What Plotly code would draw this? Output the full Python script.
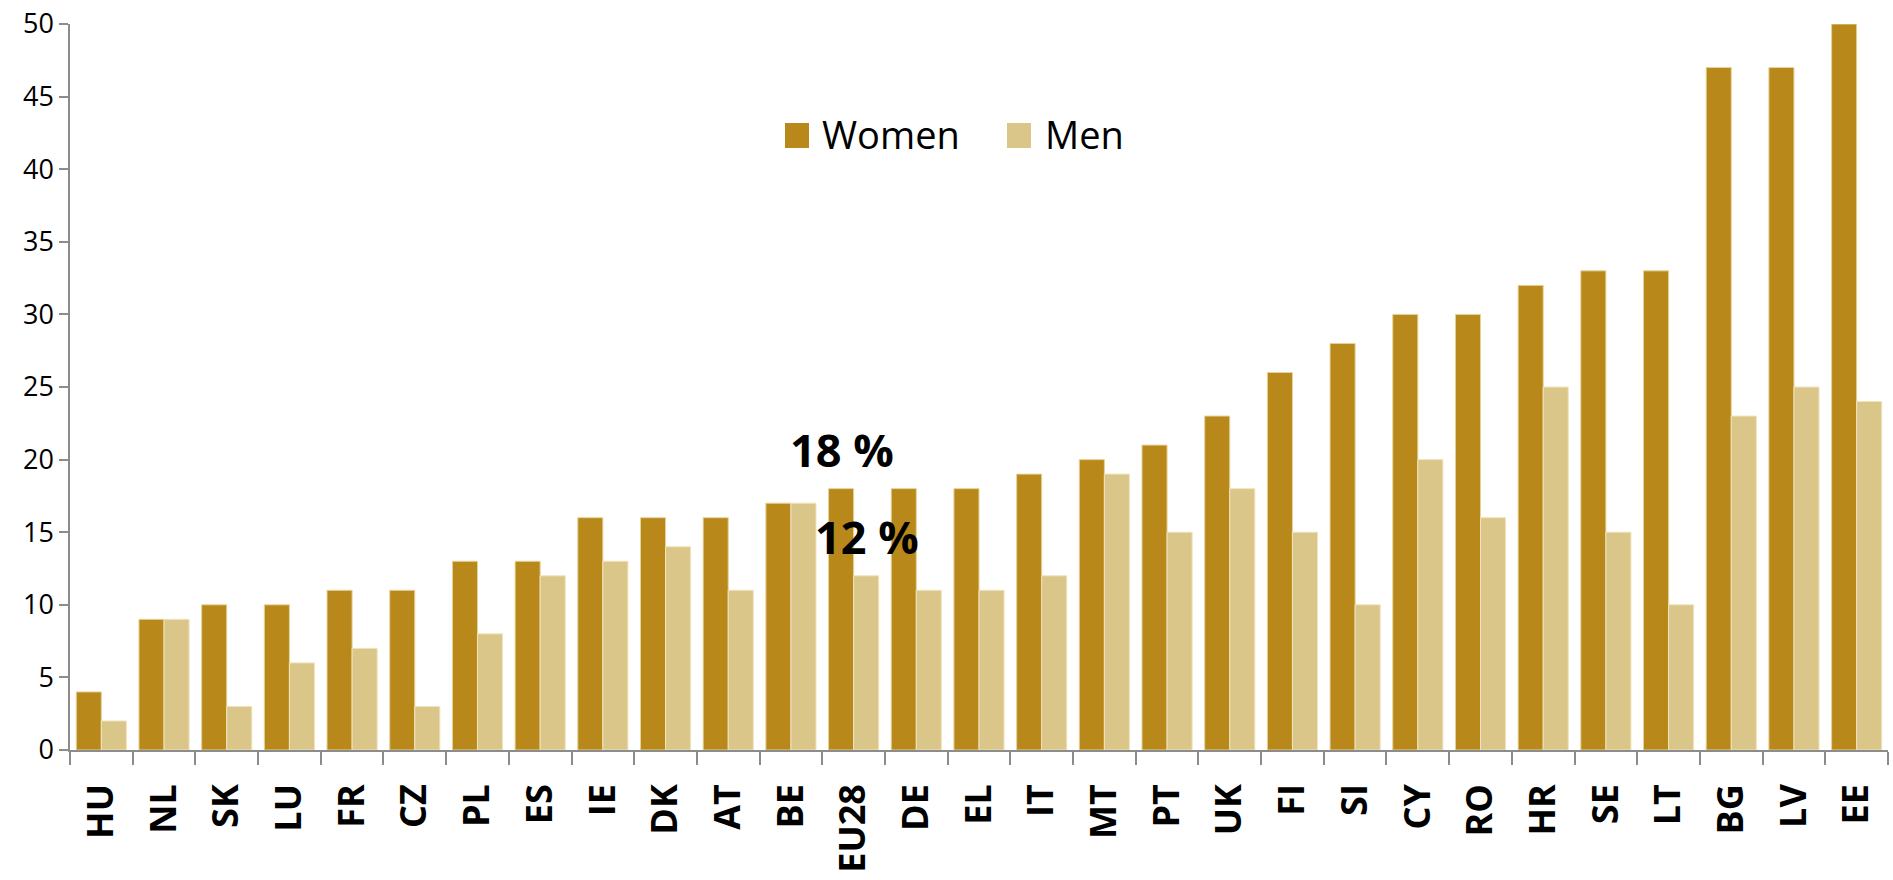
import plotly.graph_objects as go

countries = ["HU", "NL", "SK", "LU", "FR", "CZ", "PL", "ES", "IE", "DK", "AT", "BE", "EU28", "DE",
             "EL", "IT", "MT", "PT", "UK", "FI", "SI", "CY", "RO", "HR", "SE", "LT", "BG", "LV", "EE"]
women = [4, 9, 10, 10, 11, 11, 13, 13, 16, 16, 16, 17, 18, 18, 18, 19, 20, 21, 23, 26, 28, 30, 30, 32, 33, 33, 47, 47, 50]
men = [2, 9, 3, 6, 7, 3, 8, 12, 13, 14, 11, 17, 12, 11, 11, 12, 19, 15, 18, 15, 10, 20, 16, 25, 15, 10, 23, 25, 24]
y_ticks = [0, 5, 10, 15, 20, 25, 30, 35, 40, 45, 50]

WOMEN_C = "#B8891A"
MEN_C = "#DBC68A"
AXIS_C = "#8C8C8C"

fig = go.Figure()
fig.add_trace(go.Bar(x=countries, y=women, name="Women", marker=dict(color=WOMEN_C, line=dict(color="#E6D39B", width=1)), showlegend=False))
fig.add_trace(go.Bar(x=countries, y=men, name="Men", marker=dict(color=MEN_C, line=dict(color="#F0E4BE", width=1)), showlegend=False))

fig.update_layout(
    width=1893, height=880,
    margin=dict(l=70, r=5, t=24, b=130),
    paper_bgcolor="white", plot_bgcolor="white",
    barmode="group", bargap=0.2, bargroupgap=0,
    font=dict(family="Open Sans", color="black"),
)
fig.update_xaxes(
    type="category", showline=True, linecolor=AXIS_C, linewidth=1.5,
    ticks="outside", tickson="boundaries", ticklen=13, tickcolor=AXIS_C, tickwidth=1.5,
    tickangle=-90, tickfont=dict(family="Open Sans", size=36, color="black", weight="bold"),
    ticklabelstandoff=18, automargin=False,
    showgrid=False, range=[-0.5, len(countries) - 0.5],
)
fig.update_yaxes(
    range=[0, 50], tickvals=y_ticks, showline=True, linecolor=AXIS_C, linewidth=1.5,
    ticks="outside", ticklen=9, tickcolor=AXIS_C, tickwidth=1.5,
    tickfont=dict(family="Open Sans", size=27, color="black"),
    ticklabeloverflow="allow", automargin=False,
    showgrid=False, zeroline=False,
)

# annotations
fig.add_annotation(x=11.81, y=20.7, xref="x", yref="y", text="<b>18 %</b>", showarrow=False,
                   font=dict(family="Open Sans", size=45, color="black"))
fig.add_annotation(x=12.21, y=14.7, xref="x", yref="y", text="<b>12 %</b>", showarrow=False,
                   font=dict(family="Open Sans", size=45, color="black"))

# legend drawn manually (coordinates measured on the page, plot area starts at px 70,24)
def px2paper(px, py):
    return (px - 70) / 1818, 1 - (py - 24) / 726

for name, col, sq_left, txt_left in [("Women", WOMEN_C, 785, 820), ("Men", MEN_C, 1007, 1043)]:
    x0, y0 = px2paper(sq_left, 148)
    x1, y1 = px2paper(sq_left + 24, 123)
    fig.add_shape(type="rect", xref="paper", yref="paper", x0=x0, x1=x1, y0=y0, y1=y1,
                  fillcolor=col, line=dict(width=0))
    tx, ty = px2paper(txt_left, 134)
    fig.add_annotation(x=tx, y=ty, xref="paper", yref="paper", text=name, showarrow=False,
                       xanchor="left", yanchor="middle", font=dict(family="Open Sans", size=38, color="black"))

fig.write_html("out.html", config={"displayModeBar": False},
               post_script="document.body.style.margin='0';document.body.style.overflow='hidden';")
